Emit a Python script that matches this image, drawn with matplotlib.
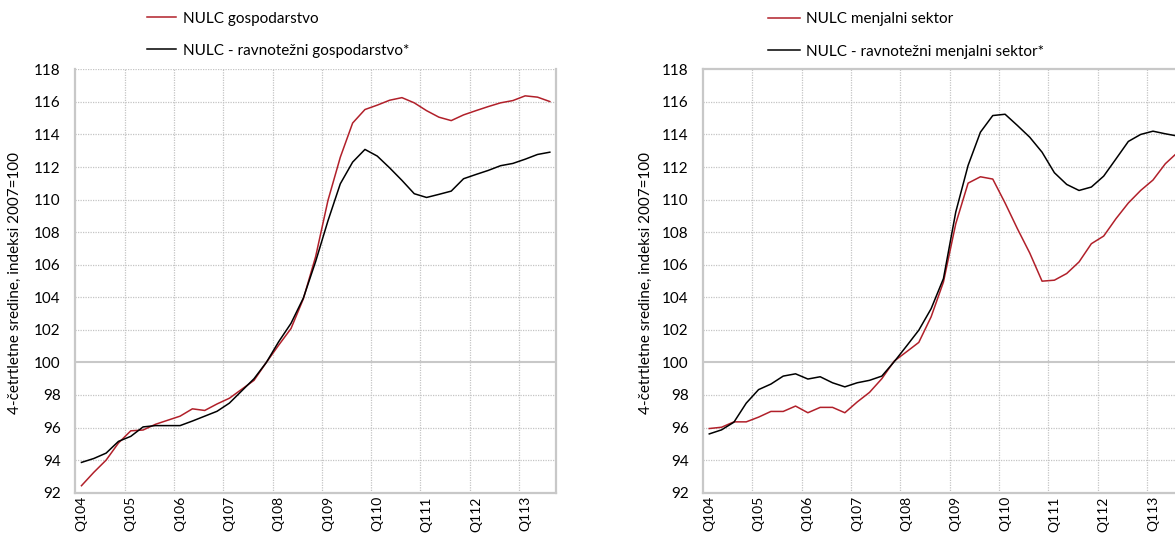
import matplotlib
matplotlib.use("Agg")
import matplotlib.pyplot as plt
from matplotlib.ticker import FixedLocator, NullFormatter

plt.rcParams['font.family'] = ['Lato', 'DejaVu Sans']

# ---- data (quarterly, Q1 2004 .. Q3 2013) ----
tick_labels = ["Q104", "Q105", "Q106", "Q107", "Q108",
               "Q109", "Q110", "Q111", "Q112", "Q113"]

nulc_gosp = [92.43, 93.25, 94.0, 95.05, 95.8, 95.85, 96.2, 96.45, 96.7, 97.15,
             97.05, 97.45, 97.8, 98.35, 98.9, 100.0, 101.06, 102.08, 103.9, 106.5,
             109.95, 112.6, 114.7, 115.53, 115.8, 116.1, 116.26, 115.94, 115.46, 115.06,
             114.85, 115.2, 115.46, 115.71, 115.94, 116.08, 116.37, 116.29, 116.02]
nulc_gosp_eq = [93.86, 94.1, 94.43, 95.15, 95.46, 96.04, 96.12, 96.12, 96.12, 96.4,
                96.7, 97.0, 97.5, 98.25, 99.0, 100.0, 101.27, 102.4, 103.95, 106.2,
                108.7, 110.97, 112.3, 113.08, 112.67, 111.95, 111.18, 110.36, 110.13, 110.32,
                110.52, 111.28, 111.54, 111.79, 112.08, 112.22, 112.48, 112.77, 112.91]
nulc_menj = [95.94, 96.02, 96.35, 96.35, 96.64, 96.99, 96.99, 97.32, 96.91, 97.24,
             97.24, 96.91, 97.57, 98.16, 99.0, 100.08, 100.65, 101.23, 102.8, 104.94,
             108.52, 111.01, 111.4, 111.26, 109.79, 108.21, 106.72, 104.99, 105.05, 105.46,
             106.17, 107.29, 107.76, 108.83, 109.79, 110.56, 111.2, 112.2, 112.9]
nulc_menj_eq = [95.61, 95.86, 96.33, 97.5, 98.33, 98.67, 99.16, 99.3, 98.98, 99.12,
                98.75, 98.5, 98.75, 98.9, 99.16, 100.04, 101.0, 101.98, 103.3, 105.15,
                109.24, 112.1, 114.14, 115.16, 115.24, 114.55, 113.83, 112.91, 111.65, 110.93,
                110.56, 110.77, 111.44, 112.5, 113.57, 114.0, 114.2, 114.04, 113.9]

labels_left = ["NULC gospodarstvo", "NULC - ravnotežni gospodarstvo*"]
labels_right = ["NULC menjalni sektor", "NULC - ravnotežni menjalni sektor*"]
ylabel = "4-četrtletne sredine, indeksi 2007=100"

RED = "#b1202a"
BLACK = "#000000"
GRID = "#c4c4c4"
SPINE = "#c8c8c8"
FS = 11
FSX = 10

W, H = 1175, 533
fig = plt.figure(figsize=(W / 100, H / 100), dpi=100)

def px(x0, y0, x1, y1):
    return [x0 / W, 1 - y1 / H, (x1 - x0) / W, (y1 - y0) / H]

def style(ax, top_solid):
    n = len(nulc_gosp)
    ax.set_xlim(0, n)
    ax.set_ylim(92, 118)
    ax.set_yticks(range(92, 119, 2))
    ax.tick_params(axis='y', length=0, pad=10.5, labelsize=FS)
    ax.xaxis.set_major_locator(FixedLocator([i + 0.5 for i in range(0, n, 4)]))
    ax.set_xticklabels(tick_labels, rotation=90, fontsize=FSX)
    ax.xaxis.set_minor_locator(FixedLocator(list(range(4, n, 4))))
    ax.xaxis.set_minor_formatter(NullFormatter())
    ax.tick_params(axis='x', which='both', length=0, pad=2.5)
    ax.grid(axis='x', which='minor', color=GRID, linestyle=(0, (1, 1)), linewidth=0.9)
    ax.grid(axis='x', which='major', visible=False)
    for v in range(94, 119, 2):
        if v == 100:
            ax.axhline(v, color=SPINE, linewidth=1.5, zorder=1)
        elif v == 118 and top_solid:
            continue
        else:
            ax.axhline(v, color=GRID, linestyle=(0, (1, 1)), linewidth=0.9, zorder=1)
    for s in ['left', 'bottom', 'right']:
        ax.spines[s].set_color(SPINE)
        ax.spines[s].set_linewidth(1.6)
    ax.spines['top'].set_visible(top_solid)
    ax.spines['top'].set_color(SPINE)
    ax.spines['top'].set_linewidth(1.6)

x = [i + 0.5 for i in range(len(nulc_gosp))]

leg_kw = dict(bbox_transform=fig.transFigure, frameon=False, fontsize=FS,
              borderpad=0, borderaxespad=0, handletextpad=0.4, labelspacing=1.2)

# left panel
axL = fig.add_axes(px(75.3, 69.3, 556.0, 492.7))
style(axL, top_solid=False)
axL.plot(x, nulc_gosp, color=RED, linewidth=1.1, label=labels_left[0], zorder=3)
axL.plot(x, nulc_gosp_eq, color=BLACK, linewidth=1.1, label=labels_left[1], zorder=3)
axL.legend(loc='upper left', bbox_to_anchor=(146.7 / W, 1 - 11.5 / H),
           handlelength=1.95, **leg_kw)
fig.text(15 / W, 1 - 283 / H, ylabel, rotation=90, ha='center', va='center', fontsize=FS)

# right panel (extends past the right edge of the figure)
axR = fig.add_axes(px(703.1, 69.3, 703.1 + 480.7, 492.7))
style(axR, top_solid=True)
axR.plot(x, nulc_menj, color=RED, linewidth=1.1, label=labels_right[0], zorder=3)
axR.plot(x, nulc_menj_eq, color=BLACK, linewidth=1.1, label=labels_right[1], zorder=3)
axR.legend(loc='upper left', bbox_to_anchor=(768 / W, 1 - 12.5 / H),
           handlelength=2.1, **leg_kw)
fig.text(646 / W, 1 - 283 / H, ylabel, rotation=90, ha='center', va='center', fontsize=FS)

fig.savefig("out.png", dpi=100)
